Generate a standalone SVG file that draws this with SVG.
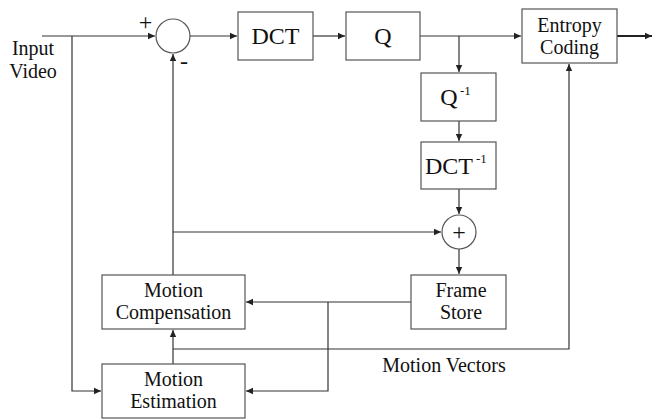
<svg xmlns="http://www.w3.org/2000/svg" width="654" height="420" viewBox="0 0 654 420">
<style>
.box{fill:#fff;stroke:#555;stroke-width:1.2}
.ln{fill:none;stroke:#333;stroke-width:1.2}
.t{font-family:"Liberation Serif",serif;font-size:20px;fill:#111;text-anchor:middle}
.big{font-size:24px}
.sup{font-size:13px;text-anchor:start}
</style>
<defs>
<marker id="ah" markerWidth="8" markerHeight="8" refX="7" refY="4" orient="auto" markerUnits="userSpaceOnUse">
<path d="M0,0.8 L7,4 L0,7.2 Z" fill="#222"/>
</marker>
</defs>
<rect width="654" height="420" fill="#fff"/>
<g id="connectors">
<path class="ln" d="M42,36 H155" marker-end="url(#ah)"/>
<path class="ln" d="M72,36 V391 H101" marker-end="url(#ah)"/>
<path class="ln" d="M190,36 H237" marker-end="url(#ah)"/>
<path class="ln" d="M313,36 H345" marker-end="url(#ah)"/>
<path class="ln" d="M420,36 H521" marker-end="url(#ah)"/>
<path class="ln" d="M459,36 V72" marker-end="url(#ah)"/>
<path class="ln" d="M459,121 V141" marker-end="url(#ah)"/>
<path class="ln" d="M459,189 V214" marker-end="url(#ah)"/>
<path class="ln" d="M459,249 V274" marker-end="url(#ah)"/>
<path class="ln" d="M173,275 V54" marker-end="url(#ah)"/>
<path class="ln" d="M173,232 H441" marker-end="url(#ah)"/>
<path class="ln" d="M411,302 H246" marker-end="url(#ah)"/>
<path class="ln" d="M328,302 V391 H246" marker-end="url(#ah)"/>
<path class="ln" d="M173,364 V330" marker-end="url(#ah)"/>
<path class="ln" d="M173,349 H569 V64" marker-end="url(#ah)"/>
<path d="M617,36 H652" fill="none" stroke="#222" stroke-width="2" marker-end="url(#ah)"/>
</g>
<g id="input-label">
<text class="t" x="33" y="55">Input</text>
<text class="t" x="33" y="78">Video</text>
</g>
<g id="subtractor">
<circle cx="173" cy="36" r="17" class="box"/>
<text class="t big" x="145.5" y="30">+</text>
<text class="t big" x="184" y="69">-</text>
</g>
<g id="dct">
<rect class="box" x="238" y="12" width="75" height="48"/>
<text class="t big" x="275.5" y="44">DCT</text>
</g>
<g id="q">
<rect class="box" x="346" y="12" width="74" height="48"/>
<text class="t big" x="383" y="44">Q</text>
</g>
<g id="entropy">
<rect class="box" x="522" y="9" width="95" height="54"/>
<text class="t" x="569.5" y="32">Entropy</text>
<text class="t" x="569.5" y="54">Coding</text>
</g>
<g id="qinv">
<rect class="box" x="421" y="73" width="75" height="48"/>
<text class="t big" x="449" y="105">Q</text>
<text class="t sup" x="460" y="95">-1</text>
</g>
<g id="dctinv">
<rect class="box" x="421" y="142" width="75" height="47"/>
<text class="t big" x="449" y="174">DCT</text>
<text class="t sup" x="476" y="163">-1</text>
</g>
<g id="adder">
<circle cx="459" cy="232" r="17" class="box"/>
<text class="t big" x="459" y="240">+</text>
</g>
<g id="frame-store">
<rect class="box" x="411" y="275" width="95" height="54"/>
<text class="t" x="461" y="297">Frame</text>
<text class="t" x="461" y="319">Store</text>
</g>
<g id="motion-compensation">
<rect class="box" x="102" y="275" width="143" height="54"/>
<text class="t" x="173.5" y="297">Motion</text>
<text class="t" x="173.5" y="319">Compensation</text>
</g>
<g id="motion-estimation">
<rect class="box" x="102" y="364" width="143" height="54"/>
<text class="t" x="173.5" y="386">Motion</text>
<text class="t" x="173.5" y="408">Estimation</text>
</g>
<g id="mv-label">
<text class="t" x="444" y="372">Motion Vectors</text>
</g>
</svg>
